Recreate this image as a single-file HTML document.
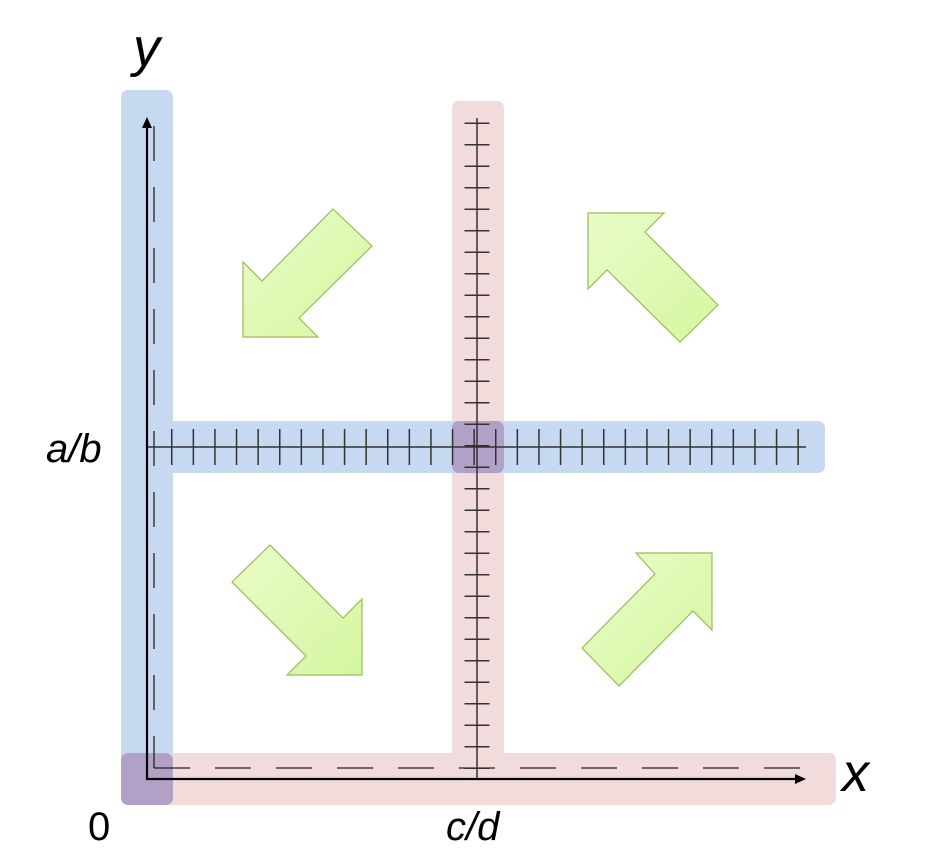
<!DOCTYPE html>
<html><head><style>body{margin:0;background:#fff}svg{display:block}</style></head><body>
<svg width="947" height="859" viewBox="0 0 947 859" xmlns="http://www.w3.org/2000/svg">
<defs>
<linearGradient id="g" x1="0" y1="0" x2="1" y2="1"><stop offset="0" stop-color="#e9fbc8"/><stop offset="1" stop-color="#d5f7a0"/></linearGradient>
</defs>
<rect x="121" y="90" width="52" height="715" rx="7" fill="#c6d9f0"/>
<rect x="452" y="101" width="52" height="704" rx="7" fill="#f2dcdb"/>
<rect x="121" y="753" width="715" height="52" rx="7" fill="#f2dcdb"/>
<rect x="147" y="421" width="678" height="52" rx="7" fill="#c6d9f0"/>
<rect x="121" y="753" width="52" height="52" rx="7" fill="#b2a1c7"/>
<rect x="452" y="421" width="52" height="52" rx="7" fill="#b2a1c7"/>
<g fill="url(#g)" stroke="#9bbb59" stroke-width="1.2">
<polygon points="333,209 372,246 299,318 318,337 243,337 243,262 262,281"/>
<polygon points="588,213 664,213 645,232 718,305 680,342 607,270 588,289"/>
<polygon points="362,675 287,675 306,656 232,582 270,545 343,618 362,599"/>
<polygon points="712,553 712,630 693,611 619,686 582,648 655,574 636,553"/>
</g>
<g stroke="#222" stroke-width="1.3" fill="none">
<line x1="154" y1="126" x2="154" y2="768" stroke-dasharray="35 26"/>
<line x1="154" y1="768" x2="800" y2="768" stroke-dasharray="36 25"/>
</g>
<g stroke="#333" fill="none">
<line x1="147" y1="447" x2="806" y2="447" stroke-width="1.5"/>
<line x1="171" y1="447" x2="802" y2="447" stroke-width="36" stroke-dasharray="1.5 20.1"/>
<line x1="477" y1="118" x2="477" y2="779" stroke-width="1.5"/>
<line x1="477" y1="122.5" x2="477" y2="770" stroke-width="25" stroke-dasharray="1.5 20"/>
</g>
<g stroke="#000" stroke-width="2.2">
<line x1="147" y1="125" x2="147" y2="780"/>
<line x1="146" y1="779" x2="798" y2="779"/>
</g>
<polygon points="147,117 142,128 152,128" fill="#000"/>
<polygon points="806,779 795,774 795,784" fill="#000"/>
<g font-family="Liberation Sans, sans-serif" fill="#000">
<text x="133" y="66" font-size="54" font-style="italic">y</text>
<text x="842" y="791" font-size="54" font-style="italic">x</text>
<text x="46" y="462" font-size="40" font-style="italic">a/b</text>
<text x="88" y="840" font-size="40">0</text>
<text x="446" y="840" font-size="40" font-style="italic">c/d</text>
</g>
</svg>
</body></html>
